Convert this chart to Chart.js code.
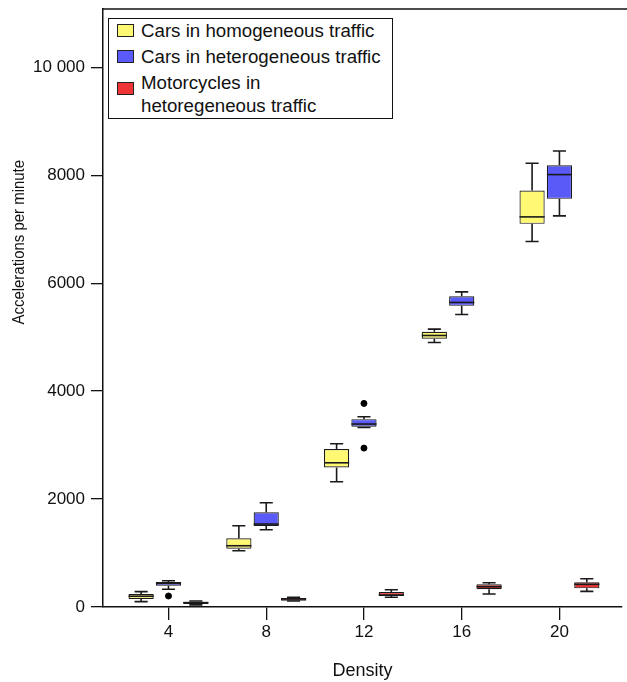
<!DOCTYPE html>
<html>
<head>
<meta charset="utf-8">
<script src="https://cdn.jsdelivr.net/npm/chart.js@4.4.0/dist/chart.umd.min.js"></script>
<style>
  body { margin: 0; background: #fff; }
  #wrap { position: relative; width: 627px; height: 682px; }
  #legend {
    position: absolute; left: 108px; top: 18px; width: 283px;
    border: 1px solid #111; background: #fff;
    font-family: "Liberation Sans", Arial, sans-serif; font-size: 18.7px; color: #111;
    display: flex; flex-direction: column; gap: 3px; padding: 0 0 1px 0;
  }
  .item { display: flex; align-items: flex-start; line-height: 23px; white-space: nowrap; }
  .sw { width: 15px; height: 11px; border: 1px solid #222; margin-left: 8px; margin-right: 7px; flex: none; }
</style>
</head>
<body>
<div id="wrap">
  <canvas id="c"></canvas>
  <div id="legend"></div>
</div>
<script>
// Данные: плотность и статистики ящиков (мин, Q1, медиана, Q3, макс)
const densities = [4, 8, 12, 16, 20];
const xTickLabels = ['4', '8', '12', '16', '20'];
const yTickValues = [0, 2000, 4000, 6000, 8000, 10000];
const yTickLabels = ['0', '2000', '4000', '6000', '8000', '10 000'];

const seriesLabels = [
    ['Cars in homogeneous traffic'],
    ['Cars in heterogeneous traffic'],
    ['Motorcycles in', 'hetoregeneous traffic']
];

const homLow  = [100, 1043, 2320, 4902, 6772];
const homQ1   = [150, 1080, 2587, 4969, 7099];
const homMed  = [200, 1135, 2672, 5031, 7228];
const homQ3   = [240, 1272, 2926, 5098, 7716];
const homHigh = [285, 1506, 3024, 5148, 8222];

const hetLow  = [328, 1431, 3325, 5420, 7247];
const hetQ1   = [394, 1500, 3339, 5580, 7562];
const hetMed  = [440, 1537, 3390, 5643, 8012];
const hetQ3   = [463, 1754, 3481, 5759, 8185];
const hetHigh = [487, 1931, 3524, 5839, 8450];

const motoLow  = [40, 110, 180, 241, 290];
const motoQ1   = [55, 117, 204, 328, 346];
const motoMed  = [80, 150, 222, 376, 420];
const motoQ3   = [98, 167, 278, 420, 457];
const motoHigh = [110, 180, 320, 450, 524];

const outlierX = [4, 12, 12];
const outlierY = [204, 3772, 2944];

const colors = ['#FFF873', '#5A5AF8', '#EE3434'];
const FONT = '"Liberation Sans", Arial, sans-serif';

const stats = [
    { low: homLow, q1: homQ1, med: homMed, q3: homQ3, high: homHigh },
    { low: hetLow, q1: hetQ1, med: hetMed, q3: hetQ3, high: hetHigh },
    { low: motoLow, q1: motoQ1, med: motoMed, q3: motoQ3, high: motoHigh }
];

const boxDatasets = stats.map((s, d) => ({
    type: 'bar',
    label: seriesLabels[d].join(' '),
    data: densities.map((x, i) => ({ x: x, y: [s.q1[i], s.q3[i]] })),
    backgroundColor: colors[d],
    borderColor: '#1a1a1a',
    borderWidth: 1.2,
    borderSkipped: false,
    categoryPercentage: 0.84,
    barPercentage: 0.92
}));

// Усы, медианы и рамка сверху
const boxPlugin = {
    id: 'boxWhiskers',
    afterDatasetsDraw(chart) {
        const ctx = chart.ctx;
        const y = chart.scales.y;
        const area = chart.chartArea;
        ctx.save();
        ctx.strokeStyle = '#1a1a1a';
        stats.forEach((s, d) => {
            const meta = chart.getDatasetMeta(d);
            meta.data.forEach((bar, i) => {
                const cx = bar.x, w = bar.width;
                const yLow = y.getPixelForValue(s.low[i]);
                const yQ1 = y.getPixelForValue(s.q1[i]);
                const yQ3 = y.getPixelForValue(s.q3[i]);
                const yHigh = y.getPixelForValue(s.high[i]);
                const yMed = y.getPixelForValue(s.med[i]);
                ctx.lineWidth = 1.6;
                ctx.beginPath();
                ctx.moveTo(cx, yQ3); ctx.lineTo(cx, yHigh);
                ctx.moveTo(cx - w * 0.26, yHigh); ctx.lineTo(cx + w * 0.26, yHigh);
                ctx.moveTo(cx, yQ1); ctx.lineTo(cx, yLow);
                ctx.moveTo(cx - w * 0.26, yLow); ctx.lineTo(cx + w * 0.26, yLow);
                ctx.stroke();
                ctx.lineWidth = 1.6;
                ctx.beginPath();
                ctx.moveTo(cx - w / 2, yMed); ctx.lineTo(cx + w / 2, yMed);
                ctx.stroke();
            });
        });
        ctx.lineWidth = 1.5;
        ctx.strokeStyle = '#111';
        ctx.beginPath();
        ctx.moveTo(area.left, area.top); ctx.lineTo(chart.width, area.top);
        ctx.stroke();
        ctx.restore();
    },
    afterDraw(chart) {
        const ctx = chart.ctx;
        const area = chart.chartArea;
        ctx.save();
        ctx.translate(19, area.top + (area.bottom - area.top) * 0.39);
        ctx.rotate(-Math.PI / 2);
        ctx.scale(0.88, 1);
        ctx.font = '17px ' + FONT;
        ctx.fillStyle = '#111';
        ctx.textAlign = 'center';
        ctx.textBaseline = 'middle';
        ctx.fillText('Accelerations per minute', 0, 0);
        ctx.restore();
    }
};

const chart = new Chart(document.getElementById('c'), {
    data: {
        datasets: boxDatasets.concat([{
            type: 'scatter',
            label: 'outliers',
            data: outlierX.map((x, i) => ({ x: x, y: outlierY[i] })),
            pointRadius: 3,
            pointBackgroundColor: '#000',
            pointBorderColor: '#000'
        }])
    },
    options: {
        responsive: true,
        maintainAspectRatio: false,
        animation: false,
        layout: { padding: { top: 9, left: 0, right: 0, bottom: 0 } },
        plugins: {
            legend: { display: false },
            tooltip: { enabled: false }
        },
        scales: {
            x: {
                type: 'linear',
                min: 1.32,
                max: 22.56,
                offset: false,
                afterBuildTicks: (scale) => { scale.ticks = densities.map(v => ({ value: v })); },
                afterFit: (scale) => { scale.height = 75; },
                grid: { drawOnChartArea: false, offset: false, tickLength: 13, color: '#111', lineWidth: 1.3 },
                border: { display: true, color: '#111', width: 1.5 },
                ticks: {
                    padding: 2,
                    color: '#111',
                    font: { family: FONT, size: 17 },
                    callback: (v) => xTickLabels[densities.indexOf(v)]
                },
                title: {
                    display: true,
                    text: 'Density',
                    color: '#111',
                    font: { family: FONT, size: 18 },
                    padding: { top: 0, bottom: 0 }
                }
            },
            y: {
                type: 'linear',
                min: 0,
                max: 11080,
                afterBuildTicks: (scale) => { scale.ticks = yTickValues.map(v => ({ value: v })); },
                afterFit: (scale) => { scale.width = 103; scale.paddingTop = 0; scale.paddingBottom = 0; },
                grid: { drawOnChartArea: false, tickLength: 12, color: '#111', lineWidth: 1.3 },
                border: { display: true, color: '#111', width: 1.5 },
                ticks: {
                    padding: 6,
                    color: '#111',
                    font: { family: FONT, size: 17 },
                    callback: (v) => yTickLabels[yTickValues.indexOf(v)]
                }
            }
        }
    },
    plugins: [boxPlugin]
});

// HTML-легенда из наборов данных
const legend = document.getElementById('legend');
seriesLabels.forEach((lines, d) => {
    const item = document.createElement('div');
    item.className = 'item';
    const sw = document.createElement('span');
    sw.className = 'sw';
    sw.style.background = chart.data.datasets[d].backgroundColor;
    sw.style.marginTop = (5 + (lines.length - 1) * 6) + 'px';
    const txt = document.createElement('span');
    txt.innerHTML = lines.join('<br>');
    item.appendChild(sw);
    item.appendChild(txt);
    legend.appendChild(item);
});
</script>
</body>
</html>
